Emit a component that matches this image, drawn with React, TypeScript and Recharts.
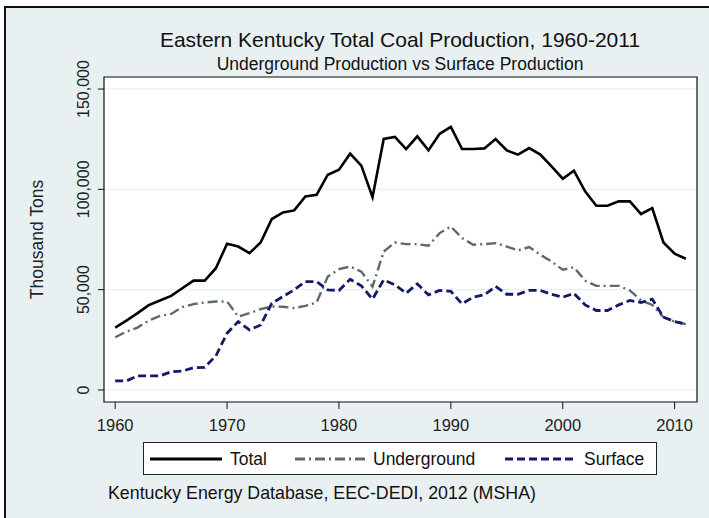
import { LineChart, Line, XAxis, YAxis, CartesianGrid, ReferenceArea } from 'recharts';

const years = [
  1960, 1961, 1962, 1963, 1964, 1965, 1966, 1967, 1968, 1969,
  1970, 1971, 1972, 1973, 1974, 1975, 1976, 1977, 1978, 1979,
  1980, 1981, 1982, 1983, 1984, 1985, 1986, 1987, 1988, 1989,
  1990, 1991, 1992, 1993, 1994, 1995, 1996, 1997, 1998, 1999,
  2000, 2001, 2002, 2003, 2004, 2005, 2006, 2007, 2008, 2009,
  2010, 2011,
];

// thousand tons
const total = [
  31100, 34600, 38300, 42300, 44600, 46900, 50700, 54500, 54500, 60700,
  72900, 71500, 68200, 73500, 85200, 88500, 89500, 96500, 97300, 107300,
  109800, 117800, 111800, 96100, 125100, 126100, 120100, 126400, 119400, 127700,
  131100, 120100, 120100, 120400, 125100, 119400, 117300, 120600, 117300, 111400,
  105300, 109300, 99000, 91800, 91800, 94000, 94000, 87700, 90600, 73500,
  67900, 65400,
];

const underground = [
  26300, 29100, 31100, 34600, 36900, 37900, 41300, 42800, 43600, 44100,
  44100, 36600, 38300, 40300, 41600, 41500, 40800, 41900, 43600, 56500,
  60200, 61500, 59000, 51500, 69000, 73500, 72700, 72700, 71900, 78200,
  81500, 75700, 72400, 72700, 73200, 71500, 69500, 71200, 67400, 64000,
  59900, 61200, 54500, 51900, 51900, 51900, 49600, 44600, 42400, 36300,
  34100, 32800,
];

const surface = [
  4500, 4500, 7000, 7000, 7000, 9100, 9400, 11100, 11300, 17000,
  28300, 34100, 29900, 32400, 43200, 46600, 49900, 54000, 54000, 49900,
  49600, 55200, 51900, 45300, 54900, 52400, 48200, 52900, 47400, 49600,
  49200, 42900, 46300, 47400, 51600, 47700, 47700, 49600, 49600, 47700,
  46200, 48200, 42400, 39600, 39600, 42400, 44600, 43600, 45300, 36300,
  34100, 32800,
];

const xTicks = [1960, 1970, 1980, 1990, 2000, 2010];
const yTicks = [0, 50000, 100000, 150000];

const data = years.map((year, i) => ({
  year,
  total: total[i],
  underground: underground[i],
  surface: surface[i],
}));

const FONT = '"Liberation Sans", Arial, Helvetica, sans-serif';
const BG = '#e9f0f1';
const GRAY = '#5b6a6a';
const NAVY = '#14196b';

const series = [
  { key: 'total', name: 'Total', color: '#000', width: 2.6, dash: undefined },
  { key: 'underground', name: 'Underground', color: GRAY, width: 2.4, dash: '10 4 2 4' },
  { key: 'surface', name: 'Surface', color: NAVY, width: 2.8, dash: '8 4' },
];

const XTick = (props: any) => {
  const { x, y, payload } = props;
  return (
    <text x={x} y={y + 20} textAnchor="middle" fontSize={16.5} fill="#222" fontFamily={FONT}>
      {payload.value}
    </text>
  );
};

const YTick = (props: any) => {
  const { x, y, payload } = props;
  return (
    <text
      transform={`translate(${x - 7},${y}) rotate(-90)`}
      textAnchor="middle"
      fontSize={16}
      fill="#222"
      fontFamily={FONT}
    >
      {payload.value.toLocaleString('en-US')}
    </text>
  );
};

const YLabel = (props: any) => {
  const { viewBox } = props;
  const cy = viewBox.y + viewBox.height / 2;
  return (
    <text
      transform={`translate(43,${cy}) rotate(-90)`}
      textAnchor="middle"
      fontSize={17.5}
      fill="#222"
      fontFamily={FONT}
    >
      Thousand Tons
    </text>
  );
};

const legendPos = [
  { line: 150, text: 230 },
  { line: 295, text: 373 },
  { line: 505, text: 584 },
];

export default function App() {
  return (
    <div style={{ position: 'absolute', left: 0, top: 0, width: 709, height: 518, background: '#fff', overflow: 'hidden' }}>
      <div
        style={{
          position: 'absolute',
          left: 4,
          top: 6,
          width: 705,
          height: 512,
          background: BG,
          borderLeft: '2px solid #111',
          borderTop: '2px solid #111',
        }}
      />
      <div style={{ position: 'absolute', left: 0, top: 0 }}>
        <LineChart width={709} height={518} data={data} margin={{ top: 77, right: 12, bottom: 86, left: 0 }}>
          <CartesianGrid horizontal vertical={false} stroke="#e3edef" strokeWidth={1} fill="#fff" />
          <ReferenceArea x1={1959} x2={2012} y1={-6000} y2={156000} fill="none" stroke="#111" strokeWidth={1.2} />
          <XAxis
            type="number"
            dataKey="year"
            domain={[1959, 2012]}
            ticks={xTicks}
            axisLine={false}
            tickSize={7}
            tickLine={{ stroke: '#111' }}
            tick={<XTick />}
            height={30}
            interval={0}
            allowDataOverflow
          />
          <YAxis
            type="number"
            domain={[-6000, 156000]}
            ticks={yTicks}
            axisLine={false}
            tickSize={6}
            tickLine={{ stroke: '#111' }}
            tick={<YTick />}
            width={104}
            interval={0}
            allowDataOverflow
            label={<YLabel />}
          />
          {series.map((s) => (
            <Line
              key={s.key}
              type="linear"
              dataKey={s.key}
              name={s.name}
              stroke={s.color}
              strokeWidth={s.width}
              strokeDasharray={s.dash}
              dot={false}
              isAnimationActive={false}
            />
          ))}
        </LineChart>
      </div>
      <div style={{ position: 'absolute', left: 0, width: 800, top: 27, textAlign: 'center', fontFamily: FONT, fontSize: 21, color: '#111', lineHeight: '26px' }}>
        Eastern Kentucky Total Coal Production, 1960-2011
      </div>
      <div style={{ position: 'absolute', left: 0, width: 800, top: 53, textAlign: 'center', fontFamily: FONT, fontSize: 17.5, color: '#111', lineHeight: '22px' }}>
        Underground Production vs Surface Production
      </div>
      <div
        style={{
          position: 'absolute',
          left: 143,
          top: 442,
          width: 512,
          height: 31,
          background: '#fff',
          border: '1px solid #222',
        }}
      />
      {series.map((s, i) => (
        <div key={s.key}>
          <svg style={{ position: 'absolute', left: legendPos[i].line, top: 454 }} width={72} height={10}>
            <line x1={0} y1={5} x2={72} y2={5} stroke={s.color} strokeWidth={3} strokeDasharray={s.dash} />
          </svg>
          <div
            style={{
              position: 'absolute',
              left: legendPos[i].text,
              top: 448,
              fontFamily: FONT,
              fontSize: 17.5,
              lineHeight: '22px',
              color: '#111',
              whiteSpace: 'nowrap',
            }}
          >
            {s.name}
          </div>
        </div>
      ))}
      <div
        style={{
          position: 'absolute',
          left: 108,
          top: 482,
          fontFamily: FONT,
          fontSize: 17.8,
          lineHeight: '22px',
          color: '#111',
          whiteSpace: 'nowrap',
        }}
      >
        Kentucky Energy Database, EEC-DEDI, 2012 (MSHA)
      </div>
    </div>
  );
}
